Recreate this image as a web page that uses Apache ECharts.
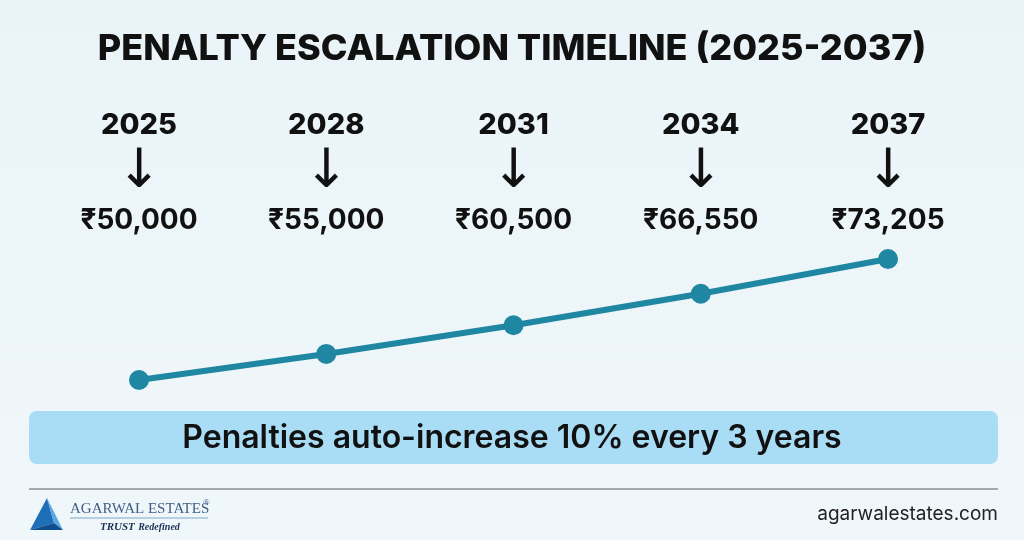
<!DOCTYPE html>
<html><head><meta charset="utf-8">
<script src="https://cdn.jsdelivr.net/npm/echarts@6/dist/echarts.min.js"></script>
<style>html,body{margin:0;padding:0;}#c{width:1024px;height:540px;}</style>
</head><body><div id="c"></div>
<script>
const years = ['2025','2028','2031','2034','2037'];
const penalties = [50000, 55000, 60500, 66550, 73205];
const valueLabels = ['₹50,000','₹55,000','₹60,500','₹66,550','₹73,205'];
const titleText = 'PENALTY ESCALATION TIMELINE (2025-2037)';
const noteText = 'Penalties auto-increase 10% every 3 years';

const chart = echarts.init(document.getElementById('c'));
const F = 'Inter, "Noto Sans", "DejaVu Sans", sans-serif';
chart.setOption({
  animation: false,
  backgroundColor: new echarts.graphic.LinearGradient(0,0,0,1,[{offset:0,color:'#eaf4f8'},{offset:1,color:'#f0f7fa'}]),
  title: {text: titleText, left: 'center', top: 26,
    textStyle: {fontFamily: F, fontWeight: 800, fontSize: 36, color: '#111'}},
  grid: [
    {left: 139, right: 136, top: 259, height: 121},
    {left: 139, right: 136, top: 100, height: 146}
  ],
  xAxis: [
    {type: 'category', data: years, boundaryGap: false, show: false, gridIndex: 0},
    {type: 'category', data: years, boundaryGap: false, show: false, gridIndex: 1}
  ],
  yAxis: [
    {type: 'value', min: 50000, max: 73205, show: false, gridIndex: 0},
    {type: 'value', min: 0, max: 1, show: false, gridIndex: 1}
  ],
  series: [
    {type: 'line', data: penalties, xAxisIndex: 0, yAxisIndex: 0,
     lineStyle: {color: '#1f87a2', width: 6}, itemStyle: {color: '#1f87a2'},
     symbol: 'circle', symbolSize: 20, z: 3},
    {type: 'scatter', xAxisIndex: 1, yAxisIndex: 1, symbolSize: 0, itemStyle: {color: '#111', opacity: 1},
     data: years.map((y,i)=>[y,0.5]),
     label: {show: true, position: 'inside', color: '#111', textBorderWidth: 0, opacity: 1,
       formatter: p => '{y|' + years[p.dataIndex] + '}\n{a|↓}\n{v|' + valueLabels[p.dataIndex] + '}',
       rich: {
         y: {fontFamily: F, fontWeight: 800, fontSize: 29, color: '#111', lineHeight: 48, textBorderWidth: 0},
         a: {fontFamily: '"DejaVu Sans ExtraLight", "DejaVu Sans", sans-serif', fontWeight: 'normal', fontSize: 54, color: '#111', lineHeight: 48, textBorderWidth: 0},
         v: {fontFamily: F, fontWeight: 700, fontSize: 28, color: '#111', lineHeight: 48, textBorderWidth: 0}
       }}}
  ],
  graphic: [
    {type: 'rect', shape: {x: 29, y: 411, width: 969, height: 53, r: 8},
     style: {fill: '#a9dcf5'}, z: 1},
    {type: 'text', x: 512, y: 438, style: {text: noteText, fontFamily: F, fontWeight: 600, fontSize: 32,
       fill: '#111', align: 'center', verticalAlign: 'middle'}, z: 2},
    {type: 'line', shape: {x1: 29, y1: 489, x2: 998, y2: 489}, style: {stroke: '#8a8f93', lineWidth: 1.5}},
    {type: 'polygon', shape: {points: [[30,530],[47,498],[54,523]]}, style: {fill: '#1f6fb8'}},
    {type: 'polygon', shape: {points: [[47,498],[63,530],[54,523]]}, style: {fill: '#5aa8e0'}},
    {type: 'polygon', shape: {points: [[30,530],[54,523],[63,530]]}, style: {fill: '#0e4f8f'}},
    {type: 'text', x: 70, y: 509, style: {text: 'AGARWAL ESTATES', fontFamily: '"Liberation Serif", serif', fontSize: 15,
       fill: '#3e5f86', verticalAlign: 'middle'}},
    {type: 'text', x: 203, y: 503, style: {text: '®', fontFamily: '"Liberation Serif", serif', fontSize: 9,
       fill: '#3e5f86', verticalAlign: 'middle'}},
    {type: 'line', shape: {x1: 70, y1: 518, x2: 208, y2: 518}, style: {stroke: '#7fa6c9', lineWidth: 1}},
    {type: 'text', x: 100, y: 527, style: {text: '{b|TRUST} {i|Redefined}', verticalAlign: 'middle',
       rich: {b: {fontFamily: '"Liberation Serif", serif', fontStyle: 'italic', fontWeight: 'bold', fontSize: 11, fill: '#1c2f55'},
              i: {fontFamily: '"Liberation Serif", serif', fontStyle: 'italic', fontWeight: 'bold', fontSize: 10, fill: '#1c2f55'}}}},
    {type: 'text', x: 998, y: 514, style: {text: 'agarwalestates.com', fontFamily: F, fontSize: 19,
       fill: '#222', align: 'right', verticalAlign: 'middle'}}
  ]
});
</script></body></html>
